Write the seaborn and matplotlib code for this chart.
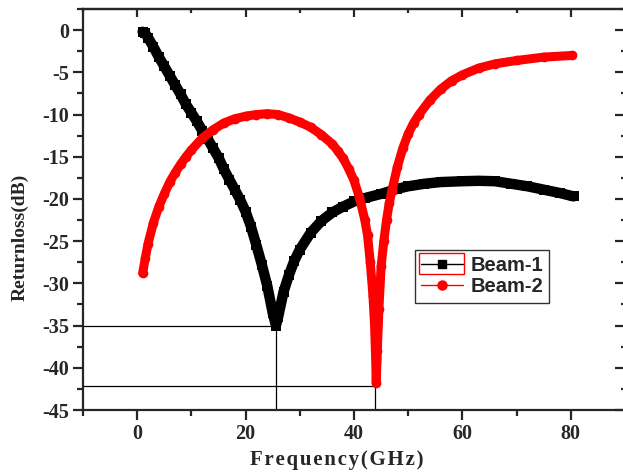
import matplotlib
matplotlib.use('Agg')
import matplotlib.pyplot as plt
import seaborn as sns
import pandas as pd
from matplotlib.lines import Line2D
from matplotlib.patches import Rectangle
from matplotlib.ticker import MultipleLocator

# Beam-1 (black squares)
beam1_freq = [1.0, 1.5, 2, 3, 4, 5, 6, 7, 8, 9, 10, 11, 12, 13, 14, 15, 16, 17,
              18, 19, 20, 21, 22, 23, 24, 25, 25.6, 26, 27, 28, 29, 30, 32, 34,
              36, 38, 40, 42, 45, 48, 50, 53, 56, 60, 63, 66, 69, 72, 75, 78, 80.5]
beam1_rl = [-0.2, -0.4, -0.9, -2.0, -3.2, -4.3, -5.4, -6.5, -7.6, -8.8, -9.8,
            -10.8, -11.9, -12.9, -14.0, -15.1, -16.5, -17.7, -18.9, -20.1, -21.5,
            -23.3, -25.5, -27.8, -30.3, -33.5, -35.0, -34.0, -31.0, -29.0, -27.3,
            -26.0, -24.0, -22.6, -21.6, -20.9, -20.3, -19.9, -19.4, -18.8, -18.5,
            -18.2, -18.0, -17.9, -17.85, -17.9, -18.2, -18.5, -18.9, -19.3, -19.7]

# Beam-2 (red circles)
beam2_freq = [1.0, 1.5, 2, 3, 4, 5, 6, 7, 8, 9, 10, 12, 14, 16, 18, 20, 22, 24,
              26, 28, 30, 32, 34, 36, 37, 38, 39, 40, 41, 42, 42.5, 43, 43.5,
              43.8, 44, 44.1, 44.3, 44.6, 45, 45.5, 46, 46.5, 47, 48, 49, 50, 51,
              52, 54, 56, 58, 60, 63, 66, 70, 75, 80.3]
beam2_rl = [-28.8, -27.0, -25.3, -22.8, -20.9, -19.4, -18.0, -16.9, -15.9, -15.0,
            -14.2, -12.8, -11.8, -11.0, -10.5, -10.2, -10.0, -9.9, -10.0, -10.4,
            -10.9, -11.5, -12.4, -13.5, -14.3, -15.2, -16.4, -17.8, -19.8, -22.5,
            -24.3, -27.5, -31.5, -35.0, -39.0, -41.8, -38.0, -33.0, -28.0, -25.0,
            -22.5, -20.5, -19.0, -16.2, -14.0, -12.3, -11.0, -10.0, -8.3, -7.0,
            -6.0, -5.3, -4.5, -4.0, -3.6, -3.2, -3.0]

# marked resonances
res_freq = [25.6, 43.9]
res_rl = [-35.0, -42.2]

sns.set_style('ticks')
plt.rcParams['font.family'] = ['Liberation Serif', 'DejaVu Serif']
plt.rcParams['axes.unicode_minus'] = False

df1 = pd.DataFrame({'f': beam1_freq, 'rl': beam1_rl})
df2 = pd.DataFrame({'f': beam2_freq, 'rl': beam2_rl})

fig = plt.figure(figsize=(6.23, 4.75), dpi=100)
ax = fig.add_axes([83 / 623, 1 - 410 / 475, 542 / 623, 401 / 475])

# guide lines to the minima
for f, r in zip(res_freq, res_rl):
    ax.plot([-10, f], [r, r], color='black', lw=0.9, zorder=1)
    ax.plot([f, f], [-45, r], color='black', lw=0.9, zorder=1)

sns.lineplot(data=df1, x='f', y='rl', ax=ax, color='black', lw=7.5,
             marker='s', markersize=7.5, markeredgewidth=0, zorder=3)
sns.lineplot(data=df2, x='f', y='rl', ax=ax, color='#ff0000', lw=6.5,
             marker='o', markersize=7, markeredgewidth=0, zorder=4)

ax.set_xlim(-10, 90)
ax.set_ylim(-45, 2.5)
ax.xaxis.set_major_locator(MultipleLocator(20))
ax.xaxis.set_minor_locator(MultipleLocator(10))
ax.yaxis.set_major_locator(MultipleLocator(5))
ax.yaxis.set_minor_locator(MultipleLocator(2.5))

for s in ax.spines.values():
    s.set_linewidth(1.6)
    s.set_visible(True)

ax.tick_params(axis='both', which='major', direction='out', length=7, width=1.6,
               labelsize=14.5, pad=3)
ax.tick_params(axis='both', which='minor', direction='out', length=4, width=1.6)
for t in ax.get_xticklabels() + ax.get_yticklabels():
    t.set_fontweight('bold')

# inward ticks on top and right
ax2 = ax.secondary_xaxis('top')
ax2.xaxis.set_major_locator(MultipleLocator(20))
ax2.xaxis.set_minor_locator(MultipleLocator(10))
ax2.tick_params(which='major', direction='in', length=6, width=1.6, labeltop=False)
ax2.tick_params(which='minor', direction='in', length=3, width=1.6)
ax2.spines['top'].set_linewidth(1.6)
ay2 = ax.secondary_yaxis('right')
ay2.yaxis.set_major_locator(MultipleLocator(5))
ay2.yaxis.set_minor_locator(MultipleLocator(2.5))
ay2.tick_params(which='major', direction='in', length=7, width=1.6, labelright=False)
ay2.tick_params(which='minor', direction='in', length=3, width=1.6)

hs = '\u200a'
ax.set_xlabel(hs.join('Frequency(GHz)'), fontsize=15, fontweight='bold')
ax.set_ylabel('Returnloss(dB)', fontsize=14, fontweight='bold')
ax.xaxis.set_label_coords((337 - 83) / 542, -(450 - 410) / 401)
ax.yaxis.set_label_coords(-(83 - 29) / 542, (410 - 237) / 401)

handles = [
    Line2D([], [], color='black', lw=1.0, marker='s', markersize=6),
    Line2D([], [], color='#ff0000', lw=1.0, marker='o', markersize=6.5),
]
leg = ax.legend(handles, ['Beam-1', 'Beam-2'], loc='upper left',
                bbox_to_anchor=((415 - 83) / 542, (410 - 250) / 401),
                borderaxespad=0, frameon=True, fancybox=False,
                prop={'family': 'Liberation Sans', 'weight': 'bold', 'size': 14.5},
                handlelength=2.1, handletextpad=0.35, labelspacing=0.12,
                borderpad=0.3)
leg.get_frame().set_edgecolor('black')
leg.get_frame().set_linewidth(1.0)

# selection box around the first legend handle
fig.patches.append(Rectangle((419 / 623, 1 - 274 / 475), 45 / 623, 21 / 475,
                             transform=fig.transFigure, fill=False,
                             edgecolor='#ff0000', lw=1.0))

fig.savefig('out.png', dpi=100)
